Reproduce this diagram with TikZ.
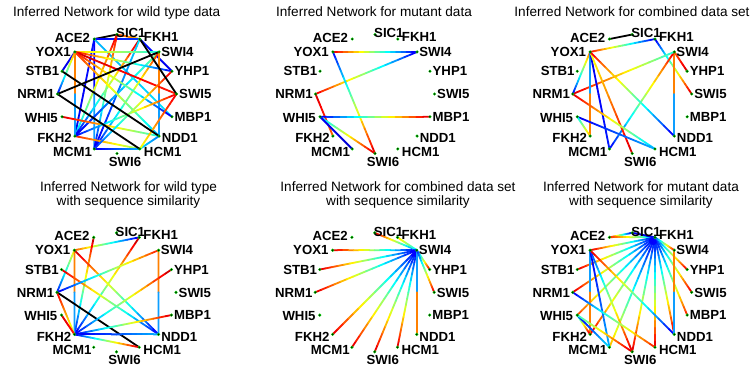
\documentclass[tikz,border=0pt]{standalone}
\usepackage{fontspec}
\setmainfont{Liberation Sans}
\usetikzlibrary{calc}

\definecolor{dotgreen}{rgb}{0,0.78,0}
\definecolor{jorange}{rgb}{1,0.5,0}
\definecolor{jlblue}{rgb}{0.05,0.62,1}
\definecolor{jblue}{rgb}{0,0,1}

\tikzset{
  edge/.style={line width=1.8pt, line cap=round},
  blk/.style={edge, draw=black},
  lbl/.style={font=\fontsize{13.2}{14}\selectfont\bfseries, inner sep=0pt, text height=9.4pt, text depth=0pt},
  ttl/.style={font=\fontsize{13.6}{15}\selectfont, inner sep=0pt, anchor=base},
  dotnode/.style={circle, fill=dotgreen, inner sep=0pt, minimum size=3.4pt},
}

% sixteen genes on a circle of radius 59.5 around (#2,#3)
\newcommand{\placepanel}[3]{%
  \foreach \nm/\ang in {SIC1/90,FKH1/67.5,SWI4/45,YHP1/22.5,SWI5/0,MBP1/-22.5,
      NDD1/-45,HCM1/-67.5,SWI6/-90,MCM1/-112.5,FKH2/-135,WHI5/-157.5,
      NRM1/180,STB1/157.5,YOX1/135,ACE2/112.5}{%
    \coordinate (#1-\nm) at ({#2+59.5*cos(\ang)},{#3-59.5*sin(\ang)});
  }%
}
% gene names beside their dots
\newcommand{\panellabels}[1]{%
  \foreach \nm/\anc/\dx/\dy in {SIC1/west/-1/-1.5,FKH1/west/4/-2.5,SWI4/west/2/0,
      YHP1/west/2.5/0,SWI5/west/2.5/0,MBP1/west/2.5/0,NDD1/west/2.5/2,
      HCM1/west/4/2.5,SWI6/center/8/8,MCM1/east/-2/3,FKH2/east/-3/2,
      WHI5/east/-4/1,NRM1/east/-2.5/0,STB1/east/-2.5/0,YOX1/east/-4/-0.5,
      ACE2/east/-4/-1.5}{%
    \node[lbl,anchor=\anc] (#1-\nm-t) at ($(#1-\nm)+(\dx,\dy)$) {\nm};
  }%
}
% the dots themselves
\newcommand{\paneldots}[1]{%
  \foreach \nm in {SIC1,FKH1,SWI4,YHP1,SWI5,MBP1,NDD1,HCM1,SWI6,MCM1,FKH2,
      WHI5,NRM1,STB1,YOX1,ACE2}{%
    \node[dotnode] (#1-\nm-d) at (#1-\nm) {};
    \fill[black] (#1-\nm) circle (0.75pt);
  }%
}
% edge coloured along its length with the jet map, from value #4 to value #5
\newcommand{\jedge}[5]{%
  \foreach \k in {0,...,15}{%
    \pgfmathsetmacro{\jv}{#4+(#5-#4)*(\k+0.5)/16}%
    \pgfmathsetmacro{\jr}{max(0,min(1,min(4*\jv-1.5,4.5-4*\jv)))}%
    \pgfmathsetmacro{\jg}{max(0,min(1,min(4*\jv-0.5,3.5-4*\jv)))}%
    \pgfmathsetmacro{\jb}{max(0,min(1,min(4*\jv+0.5,2.5-4*\jv)))}%
    \definecolor{jetc}{rgb}{\jr,\jg,\jb}%
    \draw[edge,jetc] ($(#1-#2)!{\k/16}!(#1-#3)$) -- ($(#1-#2)!{(\k+1)/16}!(#1-#3)$);%
  }%
}
% plain black edge
\newcommand{\kedge}[3]{\draw[blk] (#1-#2) -- (#1-#3);}
% edge in two flat halves
\newcommand{\sedge}[5]{%
  \draw[edge,#4] (#1-#2) -- ($(#1-#2)!0.5!(#1-#3)$);
  \draw[edge,#5] ($(#1-#2)!0.5!(#1-#3)$) -- (#1-#3);
}

\begin{document}
\begin{tikzpicture}[x=1pt,y=-1pt]
\fill[white] (0,0) rectangle (751,369);
\useasboundingbox (0,0) rectangle (751,369);

\placepanel{p1}{117}{94}
\placepanel{p2}{375}{94}
\placepanel{p3}{632.2}{94}
\placepanel{p4}{116.5}{292.3}
\placepanel{p5}{374.7}{292.3}
\placepanel{p6}{632.2}{292.3}

% titles
\node[ttl] (t1) at (116.7,16.7) {Inferred Network for wild type data};
\node[ttl] (t2) at (374,16.7) {Inferred Network for mutant data};
\node[ttl] (t3) at (632,16.7) {Inferred Network for combined data set};
\node[ttl] (t4a) at (128.5,191.5) {Inferred Network for wild type};
\node[ttl] (t4b) at (128.5,205.5) {with sequence similarity};
\node[ttl] (t5a) at (398,191.5) {Inferred Network for combined data set};
\node[ttl] (t5b) at (398,205.5) {with sequence similarity};
\node[ttl] (t6a) at (641,191.5) {Inferred Network for mutant data};
\node[ttl] (t6b) at (641,205.5) {with sequence similarity};

% ---- wild type data
\kedge{p1}{ACE2}{SIC1}
\jedge{p1}{SIC1}{FKH1}{0.82}{0.68}
\jedge{p1}{ACE2}{FKH1}{0.12}{0.18}
\jedge{p1}{ACE2}{FKH2}{0.15}{0.1}
\sedge{p1}{ACE2}{MCM1}{jblue}{jlblue}
\jedge{p1}{ACE2}{MBP1}{0.3}{0.35}
\jedge{p1}{STB1}{YOX1}{0.1}{0.12}
\jedge{p1}{SIC1}{FKH2}{0.92}{0.3}
\jedge{p1}{SIC1}{MCM1}{0.9}{0.1}
\jedge{p1}{FKH1}{FKH2}{0.95}{0.1}
\jedge{p1}{FKH1}{MCM1}{0.35}{0.1}
\jedge{p1}{FKH1}{YHP1}{0.15}{0.1}
\jedge{p1}{SWI4}{FKH2}{0.5}{0.1}
\jedge{p1}{SWI4}{MCM1}{0.85}{0.1}
\sedge{p1}{SWI4}{NDD1}{jorange}{jlblue}
\jedge{p1}{YOX1}{SWI4}{0.68}{0.4}
\jedge{p1}{YOX1}{YHP1}{0.9}{0.12}
\jedge{p1}{YOX1}{SWI5}{0.92}{0.85}
\jedge{p1}{YOX1}{MBP1}{0.9}{0.1}
\jedge{p1}{YOX1}{NDD1}{0.85}{0.3}
\sedge{p1}{YOX1}{FKH2}{jorange}{jlblue}
\jedge{p1}{NRM1}{YOX1}{0.1}{0.75}
\jedge{p1}{WHI5}{NDD1}{0.92}{0.4}
\jedge{p1}{FKH2}{HCM1}{0.85}{0.5}
\jedge{p1}{MCM1}{HCM1}{0.1}{0.3}
\jedge{p1}{HCM1}{NDD1}{0.35}{0.25}
\jedge{p1}{HCM1}{SWI5}{0.6}{0.9}
\jedge{p1}{MCM1}{YHP1}{0.15}{0.9}
\jedge{p1}{FKH2}{SWI5}{0.1}{0.9}
\kedge{p1}{STB1}{NDD1}
\kedge{p1}{NRM1}{HCM1}
\kedge{p1}{NRM1}{SWI4}
\kedge{p1}{FKH1}{SWI5}

% ---- mutant data
\jedge{p2}{YOX1}{SWI4}{0.9}{0.1}
\jedge{p2}{NRM1}{SWI4}{0.9}{0.1}
\jedge{p2}{YOX1}{SWI6}{0.12}{0.92}
\jedge{p2}{NRM1}{FKH2}{0.92}{0.78}
\jedge{p2}{WHI5}{SWI6}{0.3}{0.92}
\jedge{p2}{WHI5}{MBP1}{0.1}{0.92}
\jedge{p2}{WHI5}{MCM1}{0.12}{0.08}

% ---- combined data set
\kedge{p3}{ACE2}{SIC1}
\jedge{p3}{YOX1}{FKH1}{0.88}{0.1}
\jedge{p3}{FKH1}{SWI5}{0.1}{0.92}
\jedge{p3}{SWI4}{YHP1}{0.78}{0.92}
\sedge{p3}{SWI4}{NDD1}{jorange}{jlblue}
\jedge{p3}{SWI4}{MCM1}{0.9}{0.12}
\jedge{p3}{NRM1}{SWI4}{0.92}{0.4}
\jedge{p3}{YOX1}{NRM1}{0.78}{0.12}
\sedge{p3}{YOX1}{FKH2}{jlblue}{jorange}
\jedge{p3}{YOX1}{MCM1}{0.1}{0.15}
\jedge{p3}{YOX1}{SWI6}{0.6}{0.92}
\jedge{p3}{YOX1}{NDD1}{0.9}{0.1}
\jedge{p3}{NRM1}{HCM1}{0.92}{0.3}
\jedge{p3}{WHI5}{HCM1}{0.1}{0.3}
\jedge{p3}{WHI5}{FKH2}{0.35}{0.7}

% ---- wild type with sequence similarity
\jedge{p4}{YOX1}{FKH1}{0.8}{0.1}
\jedge{p4}{ACE2}{FKH2}{0.95}{0.12}
\jedge{p4}{FKH2}{FKH1}{0.1}{0.95}
\jedge{p4}{YOX1}{NRM1}{0.65}{0.15}
\sedge{p4}{YOX1}{FKH2}{jorange}{jlblue}
\jedge{p4}{YOX1}{NDD1}{0.95}{0.1}
\jedge{p4}{STB1}{NDD1}{0.92}{0.12}
\jedge{p4}{NRM1}{SWI4}{0.1}{0.85}
\kedge{p4}{NRM1}{HCM1}
\jedge{p4}{NRM1}{FKH2}{0.9}{0.55}
\jedge{p4}{WHI5}{FKH2}{0.92}{0.85}
\sedge{p4}{SWI4}{NDD1}{jorange}{jlblue}
\jedge{p4}{FKH2}{YHP1}{0.1}{0.95}
\jedge{p4}{FKH2}{MBP1}{0.1}{0.92}
\jedge{p4}{FKH2}{NDD1}{0.1}{0.3}
\jedge{p4}{FKH2}{HCM1}{0.1}{0.92}

% ---- combined data set with sequence similarity
\jedge{p5}{SIC1}{SWI4}{0.92}{0.2}
\jedge{p5}{FKH1}{SWI4}{0.7}{0.35}
\jedge{p5}{YOX1}{SWI4}{0.92}{0.1}
\jedge{p5}{STB1}{SWI4}{0.92}{0.1}
\jedge{p5}{NRM1}{SWI4}{0.92}{0.1}
\jedge{p5}{FKH2}{SWI4}{0.92}{0.1}
\jedge{p5}{MCM1}{SWI4}{0.92}{0.1}
\jedge{p5}{SWI6}{SWI4}{0.92}{0.1}
\jedge{p5}{HCM1}{SWI4}{0.92}{0.1}
\sedge{p5}{SWI4}{NDD1}{jlblue}{jorange}
\jedge{p5}{YHP1}{SWI4}{0.92}{0.2}
\jedge{p5}{SWI5}{SWI4}{0.92}{0.15}

% ---- mutant data with sequence similarity
\jedge{p6}{ACE2}{SIC1}{0.9}{0.1}
\jedge{p6}{ACE2}{FKH1}{0.85}{0.3}
\jedge{p6}{SIC1}{FKH1}{0.1}{0.1}
\jedge{p6}{YOX1}{FKH1}{0.92}{0.1}
\jedge{p6}{STB1}{FKH1}{0.92}{0.1}
\jedge{p6}{NRM1}{FKH1}{0.92}{0.1}
\jedge{p6}{WHI5}{FKH1}{0.82}{0.1}
\jedge{p6}{FKH2}{FKH1}{0.9}{0.1}
\jedge{p6}{MCM1}{FKH1}{0.7}{0.1}
\jedge{p6}{SWI6}{FKH1}{0.92}{0.1}
\jedge{p6}{HCM1}{FKH1}{0.92}{0.1}
\jedge{p6}{NDD1}{FKH1}{0.92}{0.1}
\jedge{p6}{MBP1}{FKH1}{0.85}{0.1}
\jedge{p6}{SWI5}{FKH1}{0.92}{0.12}
\jedge{p6}{YHP1}{FKH1}{0.92}{0.15}
\jedge{p6}{SWI4}{FKH1}{0.88}{0.2}
\sedge{p6}{YOX1}{FKH2}{jlblue}{jorange}
\jedge{p6}{YOX1}{MCM1}{0.1}{0.3}
\jedge{p6}{YOX1}{SWI6}{0.15}{0.92}
\jedge{p6}{YOX1}{NDD1}{0.92}{0.1}
\jedge{p6}{NRM1}{HCM1}{0.1}{0.85}
\jedge{p6}{WHI5}{FKH2}{0.3}{0.92}
\jedge{p6}{WHI5}{MCM1}{0.1}{0.35}
\jedge{p6}{WHI5}{SWI6}{0.4}{0.92}
\sedge{p6}{SWI4}{NDD1}{jorange}{jlblue}

% dots and names on top
\paneldots{p1}\paneldots{p2}\paneldots{p3}\paneldots{p4}\paneldots{p5}\paneldots{p6}
\panellabels{p1}\panellabels{p2}\panellabels{p3}\panellabels{p4}\panellabels{p5}\panellabels{p6}
\end{tikzpicture}
\end{document}
